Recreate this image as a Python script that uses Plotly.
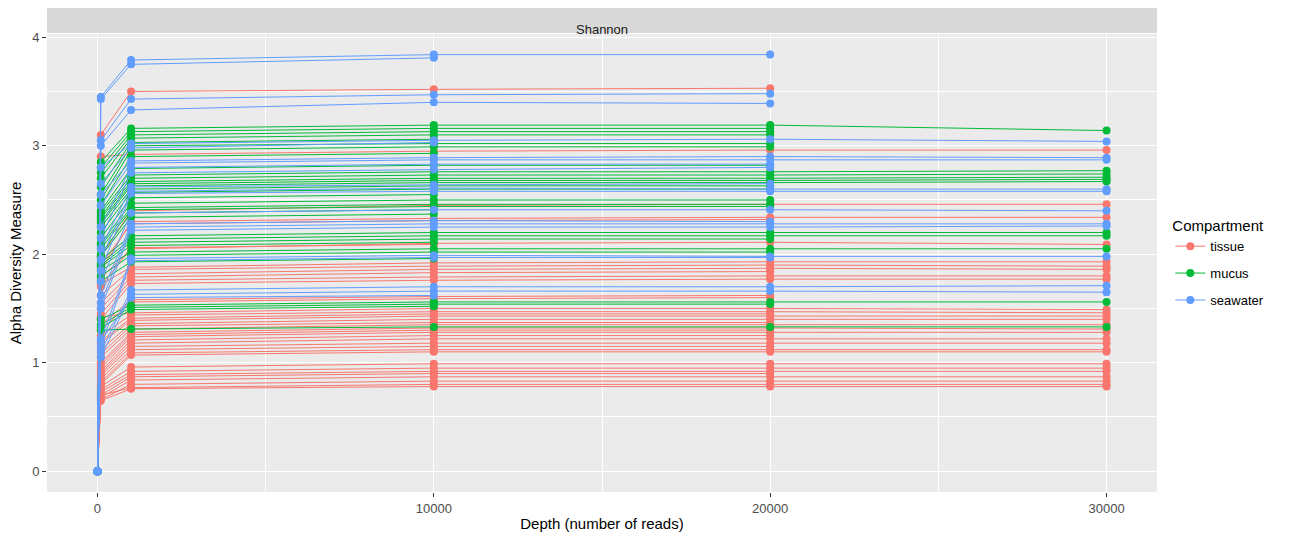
import plotly.graph_objects as go

# Rarefaction depths (number of reads)
depths = [1, 100, 1000, 10000, 20000, 30000]

# Shannon index per sample at depths 100, 1000, 10000, 20000, 30000
# (value at depth 1 is always 0; None = sample too shallow for that depth)
tissue = [
    (3.10, 3.50, 3.52, 3.53, None),
    (2.90, 2.92, 2.95, 2.96, 2.96),
    (1.98, 2.40, 2.45, 2.46, 2.46),
    (1.85, 2.30, 2.33, 2.34, 2.34),
    (1.90, 2.28, 2.31, 2.32, None),
    (1.78, 2.05, 2.10, 2.11, 2.09),
    (1.70, 2.06, 2.09, None, None),
    (1.72, 1.88, 1.92, 1.93, 1.93),
    (1.62, 1.86, 1.89, 1.90, 1.89),
    (1.55, 1.82, 1.86, 1.87, 1.86),
    (1.50, 1.79, 1.83, 1.84, None),
    (1.45, 1.76, 1.79, 1.80, 1.80),
    (1.40, 1.73, 1.76, 1.77, 1.77),
    (1.35, 1.58, 1.61, 1.62, None),
    (1.30, 1.56, 1.59, 1.60, None),
    (1.42, 1.46, 1.50, 1.50, 1.49),
    (1.25, 1.44, 1.47, 1.47, 1.46),
    (1.20, 1.41, 1.45, 1.45, None),
    (1.18, 1.39, 1.43, 1.43, 1.43),
    (1.12, 1.36, 1.40, 1.40, 1.40),
    (1.08, 1.34, 1.37, 1.37, None),
    (1.05, 1.31, 1.35, 1.35, 1.35),
    (1.00, 1.28, 1.32, 1.32, 1.31),
    (0.98, 1.26, 1.30, 1.30, None),
    (0.95, 1.24, 1.28, 1.28, 1.28),
    (0.92, 1.21, 1.25, 1.25, None),
    (0.90, 1.18, 1.22, 1.22, 1.22),
    (0.88, 1.15, 1.18, 1.18, 1.18),
    (0.85, 1.12, 1.15, 1.15, None),
    (0.82, 1.09, 1.12, 1.12, 1.12),
    (0.80, 1.07, 1.10, 1.10, 1.10),
    (0.78, 0.96, 0.99, 0.99, 0.99),
    (0.75, 0.92, 0.95, 0.95, 0.95),
    (0.73, 0.89, 0.92, 0.92, 0.92),
    (0.70, 0.87, 0.90, 0.90, None),
    (0.68, 0.84, 0.87, 0.87, 0.87),
    (0.66, 0.80, 0.83, 0.83, 0.83),
    (0.70, 0.77, 0.80, 0.80, 0.80),
    (0.65, 0.76, 0.78, 0.78, 0.78),
]

mucus = [
    (2.85, 3.16, 3.19, 3.19, 3.14),
    (2.80, 3.13, 3.16, 3.16, None),
    (2.75, 3.10, 3.13, 3.13, None),
    (2.70, 3.07, 3.10, 3.10, None),
    (2.62, 3.03, 3.06, None, None),
    (2.55, 3.00, 3.02, 3.02, None),
    (2.50, 2.96, 2.99, 2.99, None),
    (2.45, 2.90, 2.93, None, None),
    (2.40, 2.79, 2.82, 2.82, None),
    (2.38, 2.73, 2.76, 2.76, 2.77),
    (2.35, 2.70, 2.73, 2.73, 2.74),
    (2.33, 2.67, 2.70, 2.70, 2.71),
    (2.30, 2.65, 2.68, 2.68, 2.69),
    (2.28, 2.63, 2.66, 2.66, 2.67),
    (2.25, 2.60, 2.63, 2.63, None),
    (2.20, 2.57, 2.60, 2.60, None),
    (2.15, 2.52, 2.55, None, None),
    (2.10, 2.47, 2.50, 2.50, None),
    (2.08, 2.43, 2.46, 2.46, None),
    (2.05, 2.41, 2.44, 2.44, None),
    (2.00, 2.38, 2.41, None, None),
    (1.98, 2.34, 2.37, None, None),
    (1.95, 2.17, 2.20, 2.20, 2.20),
    (1.92, 2.14, 2.17, 2.17, 2.17),
    (1.90, 2.11, 2.14, 2.14, None),
    (1.88, 2.08, 2.11, None, None),
    (1.85, 2.02, 2.05, 2.05, 2.05),
    (1.80, 1.99, 2.02, 2.02, None),
    (1.75, 1.93, 1.96, None, None),
    (1.40, 1.53, 1.56, 1.56, 1.56),
    (1.35, 1.51, 1.54, 1.54, None),
    (1.32, 1.49, 1.52, None, None),
    (1.30, 1.31, 1.33, 1.33, 1.33),
]

seawater = [
    (3.43, 3.75, 3.81, None, None),
    (3.45, 3.79, 3.84, 3.84, None),
    (3.05, 3.43, 3.47, 3.48, None),
    (3.00, 3.33, 3.40, 3.39, None),
    (2.80, 3.02, 3.05, 3.06, 3.04),
    (2.65, 2.98, 3.03, None, None),
    (2.55, 2.86, 2.89, 2.90, 2.89),
    (2.45, 2.84, 2.87, 2.87, 2.87),
    (2.25, 2.80, 2.83, 2.83, None),
    (2.15, 2.75, 2.78, 2.80, None),
    (2.05, 2.62, 2.64, 2.65, None),
    (1.95, 2.58, 2.61, 2.60, 2.60),
    (1.85, 2.56, 2.58, 2.58, 2.58),
    (1.75, 2.38, 2.41, 2.41, 2.40),
    (1.62, 2.28, 2.31, 2.30, None),
    (1.55, 2.25, 2.28, 2.28, 2.28),
    (1.50, 2.22, 2.25, 2.25, 2.26),
    (1.22, 1.96, 1.99, 1.98, 1.98),
    (1.15, 1.94, 1.97, 1.97, None),
    (1.10, 1.67, 1.70, 1.70, 1.71),
    (1.05, 1.63, 1.66, 1.66, 1.65),
    (1.20, 1.60, 1.62, None, None),
]

groups = ["tissue", "mucus", "seawater"]
colors = {"tissue": "#F8766D", "mucus": "#00BA38", "seawater": "#619CFF"}
samples = {"tissue": tissue, "mucus": mucus, "seawater": seawater}


def curves(rows):
    xs, ys = [], []
    for row in rows:
        vals = [0.0] + list(row)
        for d, v in zip(depths, vals):
            if v is not None:
                xs.append(d)
                ys.append(v)
        xs.append(None)
        ys.append(None)
    return xs, ys


fig = go.Figure()
for g in groups:
    x, y = curves(samples[g])
    fig.add_trace(go.Scatter(
        x=x, y=y, name=g, legendgroup=g, mode="lines+markers",
        line=dict(color=colors[g], width=1),
        marker=dict(color=colors[g], size=8),
        connectgaps=False,
    ))

grid = "#FFFFFF"
fig.update_layout(
    width=1307, height=540,
    margin=dict(l=47, r=150, t=34, b=48),
    paper_bgcolor="white",
    plot_bgcolor="#EBEBEB",
    font=dict(family="Liberation Sans, Arial, sans-serif", color="#4D4D4D", size=12),
    showlegend=True,
    legend=dict(
        title=dict(text="Compartment", font=dict(size=15, color="#000000")),
        font=dict(size=13, color="#000000"),
        x=1.012, xanchor="left", y=0.612, yanchor="top",
        bgcolor="white", tracegroupgap=7,
    ),
    xaxis=dict(
        range=[-1500, 31500], tickvals=[0, 10000, 20000, 30000],
        ticktext=["0", "10000", "20000", "30000"],
        showgrid=True, gridcolor=grid, gridwidth=1.1, zeroline=False,
        ticks="outside", ticklen=4, tickcolor="#333333",
        tickfont=dict(size=13, color="#4D4D4D"),
        minor=dict(tickvals=[5000, 15000, 25000], showgrid=True,
                   gridcolor=grid, gridwidth=0.5, ticks=""),
        title=dict(text="Depth (number of reads)", font=dict(size=15, color="#000000"),
                   standoff=3),
        showline=False, automargin=False,
    ),
    yaxis=dict(
        range=[-0.192, 4.03], tickvals=[0, 1, 2, 3, 4],
        showgrid=True, gridcolor=grid, gridwidth=1.1, zeroline=False,
        ticks="outside", ticklen=4, tickcolor="#333333",
        tickfont=dict(size=13, color="#4D4D4D"),
        minor=dict(tickvals=[0.5, 1.5, 2.5, 3.5], showgrid=True,
                   gridcolor=grid, gridwidth=0.5, ticks=""),
        title=dict(text="Alpha Diversity Measure", font=dict(size=15, color="#000000"),
                   standoff=6),
        showline=False, automargin=False,
    ),
)

# Facet strip label
fig.add_shape(type="rect", xref="paper", yref="paper",
              x0=0, x1=1, y0=1.002, y1=1.057,
              fillcolor="#D9D9D9", line=dict(width=0), layer="below")
fig.add_annotation(text="Shannon", xref="paper", yref="paper",
                   x=0.5, y=1.03, showarrow=False,
                   font=dict(size=13, color="#1A1A1A"))

fig.write_html("out.html")
